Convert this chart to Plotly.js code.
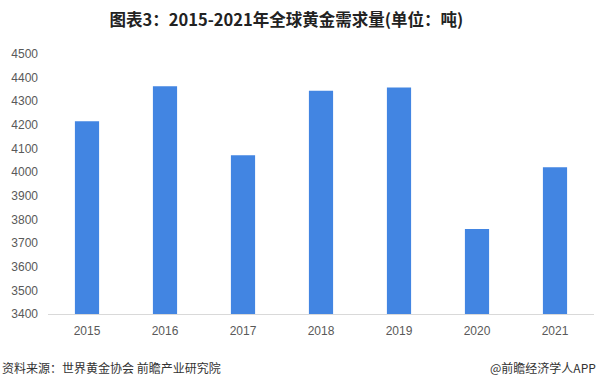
<!DOCTYPE html>
<html>
<head>
<meta charset="utf-8">
<script src="https://cdn.plot.ly/plotly-3.0.1.min.js"></script>
<style>html,body{margin:0;padding:0;background:#fff;}#chart{width:600px;height:388px;}</style>
</head>
<body>
<div id="chart"></div>
<script>
const years = ['2015','2016','2017','2018','2019','2020','2021'];
const demand = [4216, 4364, 4072, 4345, 4358, 3760, 4021];
const yTicks = [3400,3500,3600,3700,3800,3900,4000,4100,4200,4300,4400,4500];

const trace = {
  type: 'bar',
  x: years,
  y: demand,
  marker: {color: '#4285E2'},
  hoverinfo: 'x+y'
};

const layout = {
  width: 600, height: 388,
  margin: {l: 48, r: 6, t: 54, b: 74},
  paper_bgcolor: '#fff', plot_bgcolor: '#fff',
  bargap: 0.69,
  showlegend: false,
  title: {
    text: '<b>图表3：2015-2021年全球黄金需求量(单位：吨)</b>',
    font: {family: '"Noto Sans CJK SC", sans-serif', size: 16.5, color: '#222'},
    x: 262/600, xanchor: 'center', xref: 'paper',
    y: 1 - 20/388, yanchor: 'middle', yref: 'container'
  },
  xaxis: {
    type: 'category',
    showgrid: false, zeroline: false,
    showline: true, linecolor: '#d9d9d9', linewidth: 1,
    ticks: '', ticklabelstandoff: 6,
    tickfont: {family: '"Liberation Sans", Arial, sans-serif', size: 12, color: '#595959'}
  },
  yaxis: {
    range: [3400, 4500],
    tickvals: yTicks,
    ticktext: yTicks.map(String),
    showgrid: false, zeroline: false, showline: false,
    ticks: '', ticklabelstandoff: 9,
    tickfont: {family: '"Liberation Sans", Arial, sans-serif', size: 12, color: '#595959'}
  },
  annotations: [
    {text: '资料来源：世界黄金协会 前瞻产业研究院', xref: 'paper', yref: 'paper',
     x: -48/542, y: -53/260, xanchor: 'left', yanchor: 'middle', showarrow: false,
     font: {family: '"Noto Sans CJK SC", sans-serif', size: 12, color: '#333'}},
    {text: '@前瞻经济学人APP', xref: 'paper', yref: 'paper',
     x: 1 + 4/542, y: -53/260, xanchor: 'right', yanchor: 'middle', showarrow: false,
     font: {family: '"Noto Sans CJK SC", sans-serif', size: 12, color: '#333'}}
  ]
};

Plotly.newPlot('chart', [trace], layout, {displayModeBar: false, staticPlot: true});
</script>
</body>
</html>
